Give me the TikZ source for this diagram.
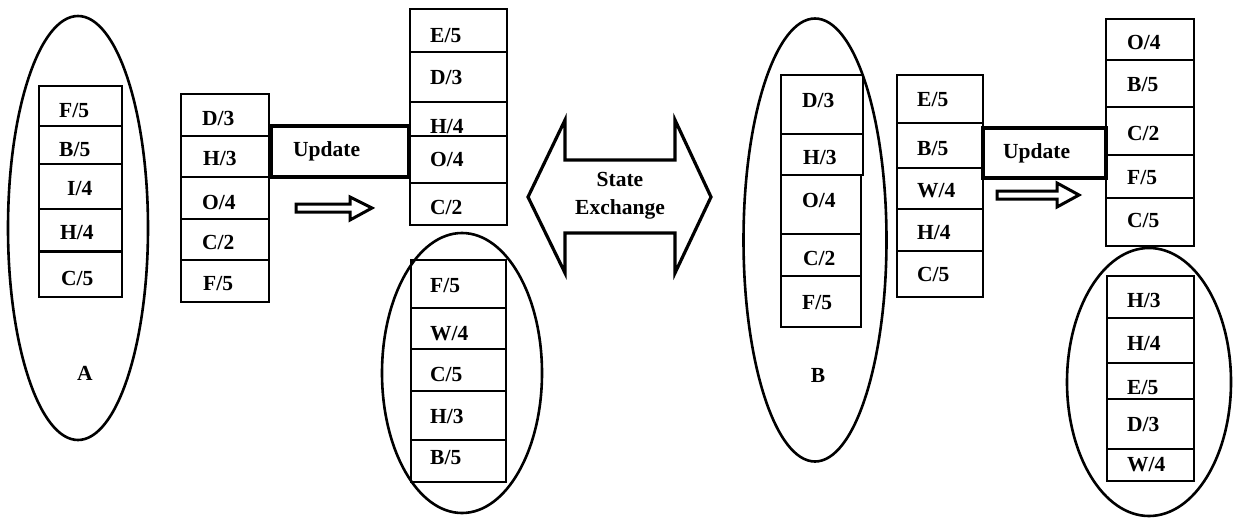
\documentclass[tikz,border=0pt]{standalone}
\usepackage{fontspec}
\setmainfont{Liberation Serif}
\usetikzlibrary{shapes.geometric}

% one table row: name, x1, y1, x2, y2, text x, text y, text
\newcommand\cellat[8]{%
  \node[cellbox, minimum width={(#4-#2)*1pt}, minimum height={(#5-#3)*1pt}]
    (#1) at ({(#2+#4)/2},{(#3+#5)/2}) {};
  \node[entry] (#1t) at (#6,{#7+7}) {#8};}

\tikzset{
  cellbox/.style={draw, rectangle, line width=1.3pt, inner sep=0pt},
  entry/.style={anchor=base west, inner sep=0pt, font=\fontsize{21.5}{24}\selectfont\bfseries},
  group/.style={draw, ellipse, line width=2.6pt, inner sep=0pt},
  updbox/.style={draw, rectangle, line width=3.4pt, inner sep=0pt},
  hollow/.style={draw, line width=3pt, line join=miter},
  caption/.style={inner sep=0pt, font=\fontsize{21.5}{28}\selectfont\bfseries, align=center}
}

\begin{document}
\begin{tikzpicture}[x=1pt, y=-1pt]
\useasboundingbox (0,0) rectangle (1233,519);

% ---------- node A ----------
\node[group, minimum width=140pt, minimum height=424pt] (ellA) at (78,228) {};
\node[caption, anchor=base] (labA) at (85,380) {A};

\cellat{a1}{39}{86}{122}{126}{59}{110}{F/5}
\cellat{a2}{39}{126}{122}{164}{59}{149}{B/5}
\cellat{a3}{39}{164}{122}{209}{67}{188}{I/4}
\cellat{a4}{39}{209}{122}{251}{60}{232}{H/4}
\cellat{a5}{39}{251}{122}{297}{61}{278}{C/5}
\draw[line width=3pt] (a4.south west) -- (a4.south east);

\cellat{b1}{181}{94}{269}{136}{202}{118}{D/3}
\cellat{b2}{181}{136}{269}{177}{203}{158}{H/3}
\cellat{b3}{181}{177}{269}{219}{202}{202}{O/4}
\cellat{b4}{181}{219}{269}{260}{202}{242}{C/2}
\cellat{b5}{181}{260}{269}{302}{203}{283}{F/5}

\node[updbox, minimum width=138pt, minimum height=51pt] (updA) at (340,151.5) {};
\node[entry, anchor=west] (updAt) at (293,151) {Update};
\draw[hollow] (296,204) -- (350,204) -- (350,197) -- (372,208) -- (350,220)
  -- (350,212) -- (296,212) -- cycle;

\cellat{c1}{410}{9}{507}{52}{430}{35}{E/5}
\cellat{c2}{410}{52}{507}{102}{430}{77}{D/3}
\cellat{c3}{410}{102}{507}{136}{430}{126}{H/4}
\cellat{c4}{410}{136}{507}{183}{430}{159}{O/4}
\cellat{c5}{410}{183}{507}{225}{430}{207}{C/2}

\node[group, minimum width=160pt, minimum height=280pt] (ellA2) at (462,373) {};
\cellat{d1}{411}{260}{506}{308}{430}{285}{F/5}
\cellat{d2}{411}{308}{506}{349}{430}{333}{W/4}
\cellat{d3}{411}{349}{506}{391}{430}{374}{C/5}
\cellat{d4}{411}{391}{506}{440}{430}{416}{H/3}
\cellat{d5}{411}{440}{506}{482}{430}{457}{B/5}

% ---------- exchange ----------
\draw[hollow, line width=3.2pt] (528,197) -- (565,120) -- (565,160) -- (675,160)
  -- (675,120) -- (711,197) -- (675,273) -- (675,233) -- (565,233)
  -- (565,273) -- cycle;
\node[caption] (xchg) at (620,196) {State\\Exchange};

% ---------- node B ----------
\node[group, minimum width=143pt, minimum height=443pt] (ellB) at (815,240) {};
\node[caption, anchor=base] (labB) at (818,382) {B};

\cellat{e1}{781}{75}{863}{134}{802}{100}{D/3}
\cellat{e2}{781}{134}{863}{175}{803}{157}{H/3}
\cellat{e3}{781}{175}{861}{234}{802}{200}{O/4}
\cellat{e4}{781}{234}{861}{276}{803}{258}{C/2}
\cellat{e5}{781}{276}{861}{327}{802}{302}{F/5}

\cellat{f1}{897}{75}{983}{123}{917}{99}{E/5}
\cellat{f2}{897}{123}{983}{168}{917}{148}{B/5}
\cellat{f3}{897}{168}{983}{209}{917}{190}{W/4}
\cellat{f4}{897}{209}{983}{251}{917}{232}{H/4}
\cellat{f5}{897}{251}{983}{297}{917}{274}{C/5}

\node[updbox, minimum width=123pt, minimum height=50pt] (updB) at (1044.5,153) {};
\node[entry, anchor=west] (updBt) at (1003,153) {Update};
\draw[hollow] (997,191) -- (1057,191) -- (1057,183) -- (1079,195) -- (1057,207)
  -- (1057,199) -- (997,199) -- cycle;

\cellat{g1}{1106}{19}{1194}{60}{1127}{43}{O/4}
\cellat{g2}{1106}{60}{1194}{107}{1127}{85}{B/5}
\cellat{g3}{1106}{107}{1194}{155}{1127}{133}{C/2}
\cellat{g4}{1106}{155}{1194}{198}{1127}{177}{F/5}
\cellat{g5}{1106}{198}{1194}{246}{1127}{220}{C/5}

\node[group, minimum width=164pt, minimum height=268pt] (ellB2) at (1149,382) {};
\cellat{h1}{1107}{276}{1194}{318}{1127}{300}{H/3}
\cellat{h2}{1107}{318}{1194}{363}{1127}{343}{H/4}
\cellat{h3}{1107}{363}{1194}{399}{1127}{387}{E/5}
\cellat{h4}{1107}{399}{1194}{449}{1127}{424}{D/3}
\cellat{h5}{1107}{449}{1194}{481}{1127}{464}{W/4}
\end{tikzpicture}
\end{document}
